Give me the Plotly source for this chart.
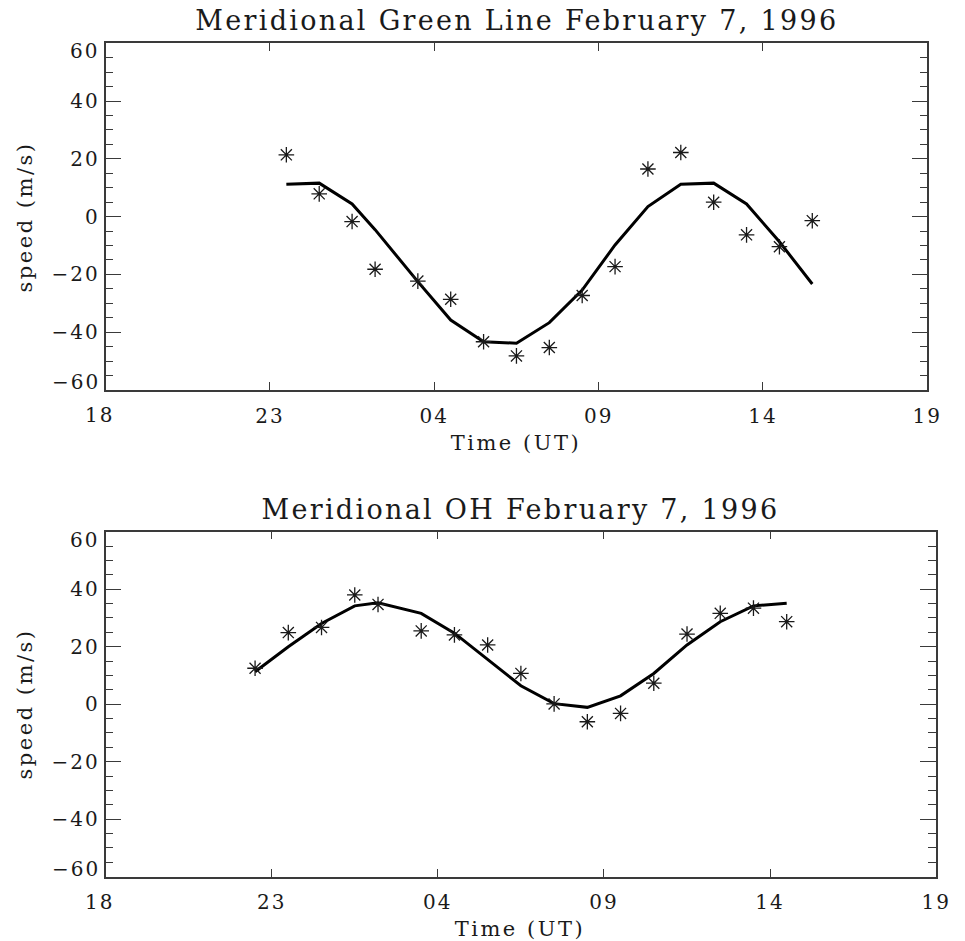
import plotly.graph_objects as go

# Hours after 18 UT on the previous day (24 -> 00 UT, 28 -> 04 UT, ...)
green_time = [23.5, 24.5, 25.5, 26.2, 27.5, 28.5, 29.5, 30.5, 31.5, 32.5,
              33.5, 34.5, 35.5, 36.5, 37.5, 38.5, 39.5]
green_obs = [21.4, 7.9, -1.7, -18.2, -22.3, -28.6, -43.3, -48.2, -45.3, -27.3,
             -17.3, 16.5, 22.2, 5.0, -6.3, -10.4, -1.4]
green_fit = [11.2, 11.6, 4.4, -4.5, -22.5, -35.8, -43.3, -43.8, -36.7, -25.4,
             -9.8, 3.5, 11.2, 11.6, 4.4, -8.7, -23.3]

oh_time = [22.5, 23.5, 24.5, 25.5, 26.2, 27.5, 28.5, 29.5, 30.5, 31.5,
           32.5, 33.5, 34.5, 35.5, 36.5, 37.5, 38.5]
oh_obs = [12.5, 24.9, 26.7, 38.0, 34.7, 25.5, 24.1, 20.6, 10.7, 0.1,
          -6.1, -3.2, 7.3, 24.4, 31.6, 33.4, 28.7]
oh_fit = [11.3, 20.0, 28.1, 34.2, 35.3, 31.6, 24.7, 15.4, 6.4, 0.2,
          -1.1, 2.9, 10.7, 20.6, 28.7, 34.2, 35.1]

x_tickvals = [23, 28, 33, 38, 43]
x_ticktext = ["23", "04", "09", "14", "19"]
y_tickvals = [-40, -20, 0, 20, 40]
y_ticktext = ["\u221240", "\u221220", "0", "20", "40"]

titles = ["Meridional Green Line February 7, 1996", "Meridional OH February 7, 1996"]

W, H = 965, 941
FONT = "DejaVu Serif"
INK = "#1a1a1a"
AX = "#3a3a3a"

fig = go.Figure()

panels = [
    dict(t=green_time, obs=green_obs, fit=green_fit, xd=[107 / W, 940 / W],
         yd=[1 - 390 / H, 1 - 43.3 / H], xa="x", ya="y", title=titles[0],
         title_xy=(524, 21), xlab=(523, 443), ylab_y=217),
    dict(t=oh_time, obs=oh_obs, fit=oh_fit, xd=[107 / W, 949 / W],
         yd=[1 - 876.7 / H, 1 - 531.7 / H], xa="x2", ya="y2", title=titles[1],
         title_xy=(528, 509), xlab=(527, 929), ylab_y=704),
]

annotations = []
for i, p in enumerate(panels):
    fig.add_trace(go.Scatter(
        x=p["t"], y=p["fit"], mode="lines",
        line=dict(color="black", width=3), xaxis=p["xa"], yaxis=p["ya"],
        showlegend=False))
    fig.add_trace(go.Scatter(
        x=p["t"], y=p["obs"], mode="markers",
        marker=dict(symbol="asterisk-open", size=13, color=INK,
                    line=dict(color=INK, width=1.3)),
        xaxis=p["xa"], yaxis=p["ya"], showlegend=False))

    sfx = "" if i == 0 else "2"
    fig.update_layout(**{
        "xaxis" + sfx: dict(
            domain=p["xd"], range=[18, 43], anchor="y" + sfx,
            tickmode="array", tickvals=x_tickvals, ticktext=x_ticktext,
            ticks="inside", ticklen=8, tickwidth=1.2, tickcolor=AX,
            showline=True, linecolor=AX, linewidth=1.5, mirror="allticks",
            showgrid=False, zeroline=False, ticklabelstandoff=7,
            tickfont=dict(family=FONT, size=20, color=INK)),
        "yaxis" + sfx: dict(
            domain=p["yd"], range=[-60, 60], anchor="x" + sfx,
            tickmode="array", tickvals=y_tickvals, ticktext=y_ticktext,
            ticks="inside", ticklen=16, tickwidth=1.2, tickcolor=AX,
            minor=dict(dtick=5, tick0=0, ticks="inside", ticklen=8,
                       tickwidth=1.1, tickcolor=AX, showgrid=False),
            showline=True, linecolor=AX, linewidth=1.5, mirror="allticks",
            showgrid=False, zeroline=False, ticklabelstandoff=0,
            tickfont=dict(family=FONT, size=20, color=INK)),
    })

    xr, yr = "x" + sfx + " domain", "y" + sfx
    # labels at the ends of the axes, set slightly inside the frame
    annotations += [
        dict(text="60", x=0, xref=xr, y=60, yref=yr, xanchor="right",
             yanchor="middle", xshift=-7, yshift=-8, showarrow=False,
             font=dict(family=FONT, size=20, color=INK)),
        dict(text="\u221260", x=0, xref=xr, y=-60, yref=yr, xanchor="right",
             yanchor="middle", xshift=-7, yshift=8, showarrow=False,
             font=dict(family=FONT, size=20, color=INK)),
        dict(text="18", x=18, xref="x" + sfx, y=0, yref="y" + sfx + " domain",
             xanchor="center", yanchor="middle", xshift=-6, yshift=-25,
             showarrow=False, font=dict(family=FONT, size=20, color=INK)),
        dict(text=p["title"], x=p["title_xy"][0] / W, y=1 - p["title_xy"][1] / H,
             xref="paper", yref="paper", xanchor="center", yanchor="middle",
             showarrow=False, font=dict(family=FONT, size=27, color=INK)),
        dict(text="Time (UT)", x=p["xlab"][0] / W, y=1 - p["xlab"][1] / H,
             xref="paper", yref="paper", xanchor="center", yanchor="middle",
             showarrow=False, font=dict(family=FONT, size=21, color=INK)),
        dict(text="speed (m/s)", x=25 / W, y=1 - p["ylab_y"] / H, textangle=-90,
             xref="paper", yref="paper", xanchor="center", yanchor="middle",
             showarrow=False, font=dict(family=FONT, size=21, color=INK)),
    ]

fig.update_layout(
    width=W, height=H, margin=dict(l=0, r=0, t=0, b=0),
    paper_bgcolor="white", plot_bgcolor="white",
    annotations=annotations,
)

# widen the tracking of all drawn text, like the plotter's stroke font
spacing_js = """
var gd = document.getElementById('{plot_id}');
gd.querySelectorAll('svg text').forEach(function (t) {
    var fs = parseFloat(t.style.fontSize) || 20;
    var em = fs >= 25 ? 0.085 : (fs >= 21 ? 0.12 : 0.1);
    t.style.letterSpacing = (em * fs).toFixed(2) + 'px';
});
"""

fig.write_html("out.html", post_script=spacing_js)
